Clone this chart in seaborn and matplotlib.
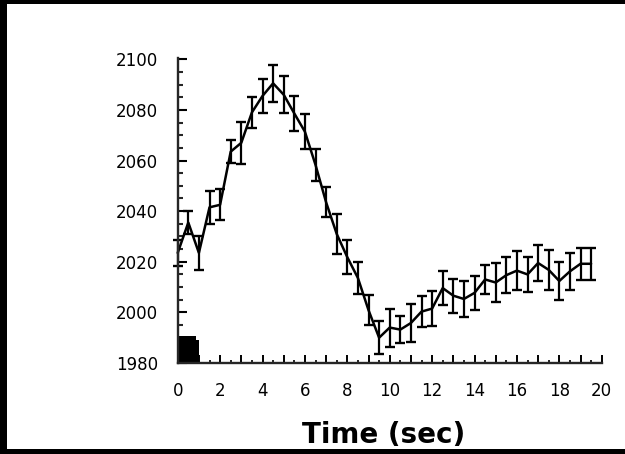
import numpy as np
import pandas as pd
import matplotlib
matplotlib.use("Agg")
import matplotlib.pyplot as plt
from matplotlib.patches import Rectangle
from matplotlib.ticker import MultipleLocator
import seaborn as sns

# ---- data ----
time_sec = [0.0, 0.5, 1.0, 1.5, 2.0, 2.5, 3.0, 3.5, 4.0, 4.5,
            5.0, 5.5, 6.0, 6.5, 7.0, 7.5, 8.0, 8.5, 9.0, 9.5,
            10.0, 10.5, 11.0, 11.5, 12.0, 12.5, 13.0, 13.5, 14.0, 14.5,
            15.0, 15.5, 16.0, 16.5, 17.0, 17.5, 18.0, 18.5, 19.0, 19.5]
mean_vals = [2023.5, 2035.5, 2023.5, 2041.5, 2042.5, 2063.5, 2067.0, 2079.0, 2085.5, 2090.5,
             2086.0, 2078.6, 2071.4, 2058.3, 2043.5, 2031.0, 2021.8, 2013.6, 2000.9, 1990.0,
             1994.0, 1993.2, 1995.8, 2000.3, 2001.5, 2009.6, 2006.6, 2005.3, 2007.7, 2013.0,
             2011.8, 2014.7, 2016.5, 2015.0, 2019.5, 2016.8, 2012.4, 2016.2, 2019.2, 2019.2]
err_vals = [5.0, 4.6, 6.6, 6.6, 6.2, 4.5, 8.3, 6.2, 6.6, 7.2,
            7.2, 6.9, 6.9, 6.2, 5.9, 7.9, 6.6, 6.2, 5.9, 6.6,
            7.5, 5.2, 7.4, 6.2, 6.9, 6.6, 6.7, 7.2, 6.6, 5.9,
            7.7, 7.2, 7.7, 6.8, 7.2, 7.9, 7.4, 7.2, 6.3, 6.3]
# stimulus marker blocks at the bottom left: (start, width, height above baseline)
stim_start = [0.0, 0.0]
stim_width = [0.85, 1.0]
stim_height = [10.6, 9.0]

x_ticks = [0, 2, 4, 6, 8, 10, 12, 14, 16, 18, 20]
y_ticks = [1980, 2000, 2020, 2040, 2060, 2080, 2100]
x_label = "Time (sec)"

df = pd.DataFrame({"time": time_sec, "value": mean_vals, "err": err_vals})

sns.set_style("ticks")
plt.rcParams["font.family"] = ["DejaVu Sans"]

W, H = 625, 454
fig = plt.figure(figsize=(W / 100, H / 100), dpi=100)
fig.patch.set_facecolor("white")
left, right = 177.7 / W, 601.7 / W
bottom, top = 1 - 363 / H, 1 - 58 / H
ax = fig.add_axes([left, bottom, right - left, top - bottom])
ax.set_facecolor("white")

sns.lineplot(data=df, x="time", y="value", ax=ax, color="black",
             linewidth=1.8, clip_on=False, legend=False)
ax.errorbar(df["time"], df["value"], yerr=df["err"], fmt="none",
            ecolor="black", elinewidth=1.6, capsize=3.85, capthick=1.7,
            clip_on=False)
for s, w, h in zip(stim_start, stim_width, stim_height):
    ax.bar(s, h, width=w, bottom=y_ticks[0], align="edge",
           color="black", linewidth=0, clip_on=False)

ax.set_xlim(0, 20)
ax.set_ylim(1980, 2100.5)
ax.set_xlabel("")
ax.set_ylabel("")
sns.despine(ax=ax)
ax.spines["left"].set_linewidth(1.7)
ax.spines["bottom"].set_linewidth(1.7)

ax.set_yticks(y_ticks)
ax.set_yticklabels([str(t) for t in y_ticks])
ax.xaxis.set_minor_locator(MultipleLocator(0.5))
ax.yaxis.set_minor_locator(MultipleLocator(5))
# integer major ticks on x (labels only every 2)
ax.xaxis.set_major_locator(MultipleLocator(1))
ax.xaxis.set_major_formatter(matplotlib.ticker.FuncFormatter(
    lambda v, p: str(int(round(v))) if int(round(v)) in x_ticks else ""))
ax.tick_params(axis="x", which="major", direction="in", length=5.8, width=1.4,
               pad=13.5, labelsize=12, colors="black")
ax.tick_params(axis="x", which="minor", direction="in", length=2.2, width=1.4)
ax.tick_params(axis="y", which="major", direction="in", length=6.5, width=1.5,
               pad=14, labelsize=12, colors="black")
ax.tick_params(axis="y", which="minor", direction="in", length=3.3, width=1.5)

fig.text((left + right) / 2 - 6 / W, 1 - 443 / H, x_label, ha="center",
         va="baseline", fontsize=20, fontweight="bold", color="black")

# black frame bands (top, left, bottom)
for (x0, y0, w, h) in [(0, 1 - 3.5 / H, 1, 3.5 / H),
                       (0, 0, 7 / W, 1),
                       (0, 0, 1, 5 / H)]:
    fig.add_artist(Rectangle((x0, y0), w, h, transform=fig.transFigure,
                             facecolor="black", edgecolor="none", zorder=10))

fig.savefig("out.png", dpi=100)
